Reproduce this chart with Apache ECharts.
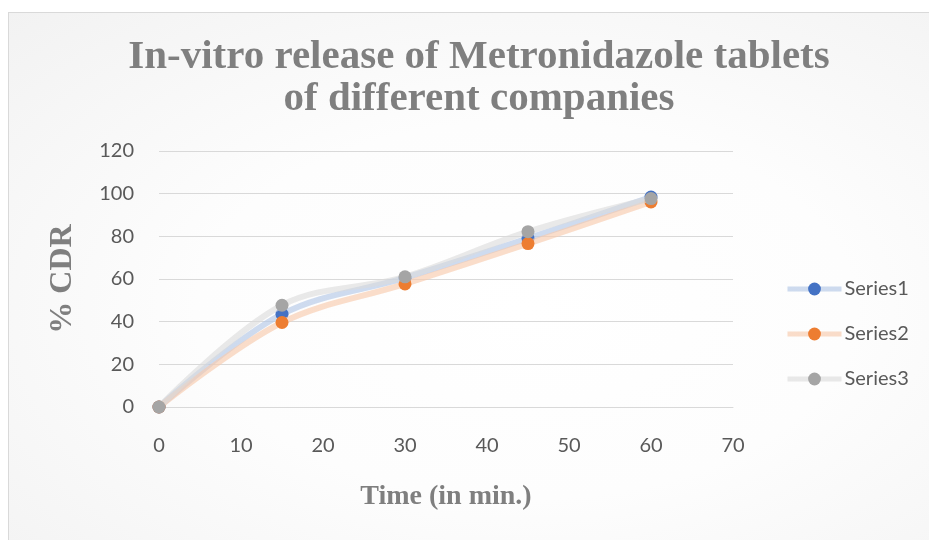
<!DOCTYPE html>
<html>
<head>
<meta charset="utf-8">
<script src="https://cdn.jsdelivr.net/npm/echarts@6/dist/echarts.min.js"></script>
<style>
html,body{margin:0;padding:0;background:#fff;}
#bg{position:absolute;left:8px;top:12px;width:940px;height:540px;border:1px solid #d9d9d9;
background:radial-gradient(ellipse at 55% 55%, #ffffff 0%, #fdfdfd 45%, #f2f2f2 100%);}
#chart{position:absolute;left:0;top:0;width:929px;height:540px;}
</style>
</head>
<body>
<div id="bg"></div>
<div id="chart"></div>
<script>
const times = [0, 15, 30, 45, 60];
const series1 = [0, 43.5, 60.5, 79, 98.4];
const series2 = [0, 39.6, 57.7, 76.6, 96.1];
const series3 = [0, 47.7, 61, 82.2, 97.7];
const seriesNames = ['Series1', 'Series2', 'Series3'];
const xTicks = [0, 10, 20, 30, 40, 50, 60, 70];
const yTicks = [0, 20, 40, 60, 80, 100, 120];

const markerColors = ['#4472c4', '#ed7d31', '#a5a5a5'];
const lineColors = ['rgba(180,199,231,0.65)', 'rgba(248,203,173,0.65)', 'rgba(219,219,219,0.6)'];
const allData = [series1, series2, series3];

const chart = echarts.init(document.getElementById('chart'), null, {renderer: 'canvas'});
chart.setOption({
  backgroundColor: 'transparent',
  animation: false,
  title: {
    text: 'In-vitro release of Metronidazole tablets\nof different companies',
    left: 474, top: 31, textAlign: 'center',
    textStyle: {fontFamily: 'Liberation Serif', fontWeight: 'bold', fontSize: 41, color: '#7f7f7f', lineHeight: 42}
  },
  legend: {
    orient: 'vertical', left: 780, top: 274, itemWidth: 54, itemHeight: 16, itemGap: 25,
    lineStyle: {width: 5},
    textStyle: {fontFamily: 'Lato', fontSize: 20, color: '#595959', padding: [0,0,0,-2]},
    data: seriesNames
  },
  grid: {left: 159, right: 196, top: 151, bottom: 133},
  xAxis: {
    type: 'value', min: xTicks[0], max: xTicks[xTicks.length-1], interval: 10,
    name: 'Time (in min.)', nameLocation: 'middle', nameGap: 76,
    nameTextStyle: {fontFamily: 'Liberation Serif', fontWeight: 'bold', fontSize: 28, color: '#7f7f7f'},
    axisLine: {show: true, lineStyle: {color: '#d9d9d9', width: 1}},
    axisTick: {show: false},
    splitLine: {show: false},
    axisLabel: {fontFamily: 'Lato', fontSize: 20, color: '#595959', margin: 29}
  },
  yAxis: {
    type: 'value', min: yTicks[0], max: yTicks[yTicks.length-1], interval: 20,
    name: '% CDR', nameLocation: 'middle', nameGap: 80, nameRotate: 90,
    nameTextStyle: {fontFamily: 'Liberation Serif', fontWeight: 'bold', fontSize: 32, color: '#7f7f7f'},
    axisLine: {show: false}, axisTick: {show: false},
    splitLine: {lineStyle: {color: '#d9d9d9', width: 1}},
    axisLabel: {fontFamily: 'Lato', fontSize: 20, color: '#595959', margin: 25}
  },
  series: seriesNames.map((n, i) => ({
    name: n, type: 'line', smooth: 0.35,
    data: times.map((t, j) => [t, allData[i][j]]),
    symbol: 'circle', symbolSize: 13,
    itemStyle: {color: markerColors[i]},
    lineStyle: {color: lineColors[i], width: 6},
    z: 2 + i
  }))
});
</script>
</body>
</html>
